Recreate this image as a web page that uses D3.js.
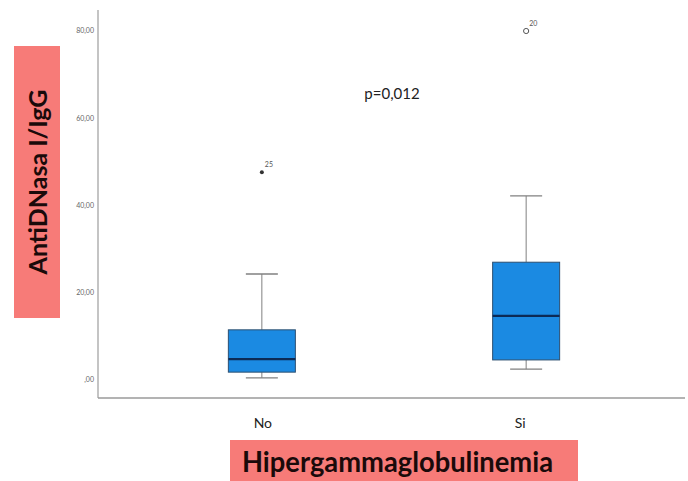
<!DOCTYPE html>
<html>
<head>
<meta charset="utf-8">
<script src="https://cdn.jsdelivr.net/npm/d3@7"></script>
<style>
  body { margin: 0; background: #fff; }
  svg { display: block; font-family: Lato, "Open Sans", sans-serif; }
</style>
</head>
<body>
<svg id="chart" width="688" height="481"></svg>
<script>
const categories = ["No", "Si"];
const whiskerLow = [0.5, 2.5];
const q1 = [1.8, 4.6];
const median = [4.8, 14.7];
const q3 = [11.5, 27.0];
const whiskerHigh = [24.3, 42.2];
const outliers = [
  { group: "No", value: 47.6, label: "25", shape: "star" },
  { group: "Si", value: 80.0, label: "20", shape: "circle" },
];
const yTicks = [0, 20, 40, 60, 80];
const pText = "p=0,012";
const yTitle = "AntiDNasa I/IgG";
const xTitle = "Hipergammaglobulinemia";

const data = categories.map((c, i) => ({
  group: c,
  lo: whiskerLow[i],
  q1: q1[i],
  med: median[i],
  q3: q3[i],
  hi: whiskerHigh[i],
}));

const marginLeft = 98;
const axisRight = 685;
const plotTop = 10;
const plotBottom = 398;

const svg = d3.select("#chart");

const x = d3
  .scalePoint()
  .domain(categories)
  .range([marginLeft, 690])
  .padding(0.62);

const y = d3.scaleLinear().domain([0, 80]).range([380, 31]);

const boxWidth = 67;
const capWidth = 32;

// titles with pink backgrounds
svg
  .append("rect")
  .attr("x", 14)
  .attr("y", 46)
  .attr("width", 46)
  .attr("height", 272)
  .attr("fill", "#f77b78");
svg
  .append("text")
  .attr("transform", "translate(47,182) rotate(-90)")
  .attr("text-anchor", "middle")
  .attr("font-weight", "bold")
  .attr("font-size", 25)
  .attr("fill", "#1a0a0a")
  .text(yTitle);

svg
  .append("rect")
  .attr("x", 230)
  .attr("y", 440)
  .attr("width", 348)
  .attr("height", 45)
  .attr("fill", "#f77b78");
svg
  .append("text")
  .attr("x", 242)
  .attr("y", 472)
  .attr("font-weight", "bold")
  .attr("font-size", 29)
  .attr("textLength", 311)
  .attr("lengthAdjust", "spacingAndGlyphs")
  .attr("fill", "#1a0a0a")
  .text(xTitle);

// axes
svg
  .append("line")
  .attr("x1", marginLeft)
  .attr("x2", marginLeft)
  .attr("y1", plotTop)
  .attr("y2", plotBottom)
  .attr("stroke", "#c4c4c4")
  .attr("stroke-width", 2);
svg
  .append("line")
  .attr("x1", marginLeft)
  .attr("x2", axisRight)
  .attr("y1", plotBottom)
  .attr("y2", plotBottom)
  .attr("stroke", "#9a9a9a")
  .attr("stroke-width", 1.5);

const fmt = (d) => (d === 0 ? ",00" : d.toFixed(2).replace(".", ","));

svg
  .append("g")
  .selectAll("text")
  .data(yTicks)
  .join("text")
  .attr("x", 94)
  .attr("y", (d) => y(d))
  .attr("dy", "0.35em")
  .attr("text-anchor", "end")
  .attr("font-size", 7)
  .attr("fill", "#666")
  .text(fmt);

svg
  .append("g")
  .selectAll("text")
  .data(categories)
  .join("text")
  .attr("x", (d, i) => x(d) + (i === 0 ? 1 : -6))
  .attr("y", 428)
  .attr("text-anchor", "middle")
  .attr("font-size", 14)
  .attr("fill", "#222")
  .text((d) => d);

// boxes
const box = svg
  .append("g")
  .selectAll("g")
  .data(data)
  .join("g")
  .attr("transform", (d) => `translate(${x(d.group)},0)`);

box
  .append("line")
  .attr("y1", (d) => y(d.hi))
  .attr("y2", (d) => y(d.q3))
  .attr("stroke", "#808080");
box
  .append("line")
  .attr("y1", (d) => y(d.lo))
  .attr("y2", (d) => y(d.q1))
  .attr("stroke", "#808080");
box
  .selectAll(".cap")
  .data((d) => [d.lo, d.hi])
  .join("line")
  .attr("class", "cap")
  .attr("x1", -capWidth / 2)
  .attr("x2", capWidth / 2)
  .attr("y1", (v) => y(v))
  .attr("y2", (v) => y(v))
  .attr("stroke", "#808080")
  .attr("stroke-width", 1.3);
box
  .append("rect")
  .attr("x", -boxWidth / 2)
  .attr("width", boxWidth)
  .attr("y", (d) => y(d.q3))
  .attr("height", (d) => y(d.q1) - y(d.q3))
  .attr("fill", "#1b8ae2")
  .attr("stroke", "#2c4f70")
  .attr("stroke-width", 1);
box
  .append("line")
  .attr("x1", -boxWidth / 2)
  .attr("x2", boxWidth / 2)
  .attr("y1", (d) => y(d.med))
  .attr("y2", (d) => y(d.med))
  .attr("stroke", "#0c2a55")
  .attr("stroke-width", 2.2);

// outliers
const out = svg
  .append("g")
  .selectAll("g")
  .data(outliers)
  .join("g")
  .attr("transform", (d) => `translate(${x(d.group)},${y(d.value)})`);
out
  .filter((d) => d.shape === "star")
  .append("circle")
  .attr("r", 2)
  .attr("fill", "#333");
out
  .filter((d) => d.shape === "circle")
  .append("circle")
  .attr("r", 2.6)
  .attr("fill", "none")
  .attr("stroke", "#555")
  .attr("stroke-width", 1);
out
  .append("text")
  .attr("x", 3)
  .attr("y", -5)
  .attr("font-size", 7)
  .attr("fill", "#555")
  .text((d) => d.label);

// p value
svg
  .append("text")
  .attr("x", 392)
  .attr("y", 99)
  .attr("text-anchor", "middle")
  .attr("font-size", 15)
  .attr("fill", "#222")
  .text(pText);
</script>
</body>
</html>
